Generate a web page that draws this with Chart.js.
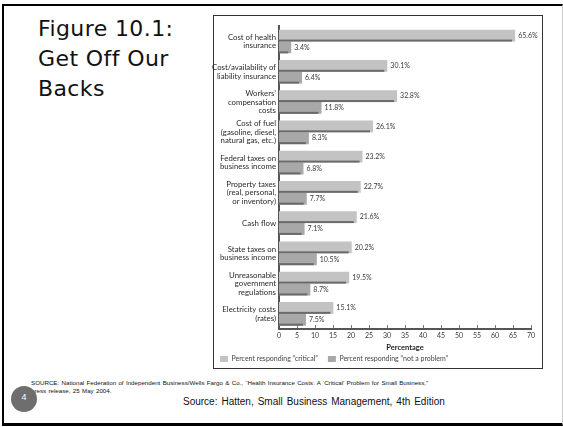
<!DOCTYPE html>
<html>
<head>
<meta charset="utf-8">
<script src="https://cdn.jsdelivr.net/npm/chart.js@4/dist/chart.umd.min.js"></script>
<style>
  html, body { margin: 0; padding: 0; background: #fff; }
  body { width: 563px; height: 427px; position: relative; overflow: hidden; }
  #slide { position: absolute; left: 2px; top: 4px; width: 558px; height: 417px;
    border-top: 2px solid #000; border-left: 2px solid #000; border-bottom: 3px solid #000; border-right: 1px solid #ccc; }
  #title { position: absolute; left: 38px; top: 14px; font-family: "DejaVu Sans", sans-serif; font-size: 22px;
    line-height: 30px; letter-spacing: 0.4px; color: #111; }
  #frame { position: absolute; left: 213px; top: 15px; width: 328px; height: 352px; border: 1px solid #333; }
  #wrap { position: absolute; left: 210px; top: 15px; width: 332px; height: 353px; }
  #foot { position: absolute; left: 31px; top: 379px; font-family: "Liberation Sans", sans-serif; font-size: 6.2px;
    line-height: 8px; color: #111; word-spacing: 0.6px; white-space: nowrap; }
  #num { position: absolute; left: 11px; top: 386px; width: 26px; height: 26px; border-radius: 50%; background: #6e6e6e;
    color: #fff; font-family: "Liberation Sans", sans-serif; font-size: 9px; text-align: center; line-height: 22px; }
  #src { position: absolute; left: 183px; top: 396px; font-family: "Liberation Sans", sans-serif; font-size: 10px;
    color: #111; word-spacing: 1.2px; white-space: nowrap; }
</style>
</head>
<body>
<div id="slide"></div>
<div id="title">Figure 10.1:<br>Get Off Our<br>Backs</div>
<div id="frame"></div>
<div id="wrap"><canvas id="c" width="332" height="353"></canvas></div>
<div id="foot">SOURCE: National Federation of Independent Business/Wells Fargo &amp; Co., “Health Insurance Costs: A ‘Critical’ Problem for Small Business,”<br>press release, 25 May 2004.</div>
<div id="num">4</div>
<div id="src">Source: Hatten, Small Business Management, 4th Edition</div>
<script>
const categories = [
  ["Cost of health", "insurance"],
  ["Cost/availability of", "liability insurance"],
  ["Workers’", "compensation", "costs"],
  ["Cost of fuel", "(gasoline, diesel,", "natural gas, etc.)"],
  ["Federal taxes on", "business income"],
  ["Property taxes", "(real, personal,", "or inventory)"],
  "Cash flow",
  ["State taxes on", "business income"],
  ["Unreasonable", "government", "regulations"],
  ["Electricity costs", "(rates)"]
];
const criticalValues = [65.6, 30.1, 32.8, 26.1, 23.2, 22.7, 21.6, 20.2, 19.5, 15.1];
const notProblemValues = [3.4, 6.4, 11.8, 8.3, 6.8, 7.7, 7.1, 10.5, 8.7, 7.5];
const xTickValues = [0, 5, 10, 15, 20, 25, 30, 35, 40, 45, 50, 55, 60, 65, 70];
const seriesNames = ["Percent responding “critical”", "Percent responding “not a problem”"];
const xTitle = "Percentage";

const barDecor = {
  id: 'barDecor',
  afterDatasetsDraw(chart) {
    const ctx = chart.ctx;
    ctx.save();
    chart.data.datasets.forEach((ds, di) => {
      const meta = chart.getDatasetMeta(di);
      meta.data.forEach((bar, i) => {
        const p = bar.getProps(['x', 'y', 'base', 'height'], true);
        const bottom = p.y + p.height / 2;
        ctx.fillStyle = '#6a6a6a';
        ctx.fillRect(p.base, bottom - 2, Math.max(0, p.x - p.base - 3), 2);
        ctx.fillStyle = '#3a3a3a';
        ctx.font = '7px Lato';
        ctx.textAlign = 'left';
        ctx.textBaseline = 'middle';
        ctx.fillText(ds.data[i].toFixed(1) + '%', p.x + 3, p.y);
      });
    });
    const s = chart.scales.x;
    ctx.strokeStyle = '#777';
    ctx.lineWidth = 1;
    s.ticks.forEach(t => {
      if (t.value === 0) return;
      const px = Math.round(s.getPixelForValue(t.value)) + 0.5;
      ctx.beginPath();
      ctx.moveTo(px, s.top - 1);
      ctx.lineTo(px, s.top - 4);
      ctx.stroke();
    });
    ctx.restore();
  }
};

new Chart(document.getElementById('c'), {
  type: 'bar',
  data: {
    labels: categories,
    datasets: [
      { label: seriesNames[0], data: criticalValues, backgroundColor: '#c3c3c3', borderWidth: 0,
        categoryPercentage: 0.78, barPercentage: 1.0 },
      { label: seriesNames[1], data: notProblemValues, backgroundColor: '#a8a8a8', borderWidth: 0,
        categoryPercentage: 0.78, barPercentage: 1.0 }
    ]
  },
  options: {
    indexAxis: 'y',
    responsive: false,
    animation: false,
    layout: { padding: { top: 7, right: 11, left: 0, bottom: 0 } },
    scales: {
      x: {
        min: 0, max: 70,
        afterBuildTicks: s => { s.ticks = xTickValues.map(v => ({ value: v })); },
        afterFit: s => { s.height = 16.5; },
        grid: { display: false, drawTicks: false },
        border: { display: true, color: '#555', width: 2 },
        ticks: { padding: 3, color: '#3a3a3a', font: { family: 'Lato', size: 7 }, maxRotation: 0, autoSkip: false },
        title: { display: true, text: xTitle, color: '#222', font: { family: 'Lato', size: 7.5, weight: 'bold' },
          padding: { top: 0, bottom: -6.3 } }
      },
      y: {
        afterFit: s => { s.width = 69; },
        grid: { display: false, drawTicks: false },
        border: { display: true, color: '#555', width: 2 },
        ticks: { padding: 3, color: '#2a2a2a', font: { family: 'Lato', size: 7.8, lineHeight: 1.08 }, autoSkip: false }
      }
    },
    plugins: {
      legend: {
        position: 'bottom', align: 'start', maxHeight: 22.5,
        labels: { boxWidth: 8, boxHeight: 6, padding: 10, color: '#444', font: { family: 'Lato', size: 7 } }
      },
      tooltip: { enabled: false }
    }
  },
  plugins: [barDecor]
});
</script>
</body>
</html>
